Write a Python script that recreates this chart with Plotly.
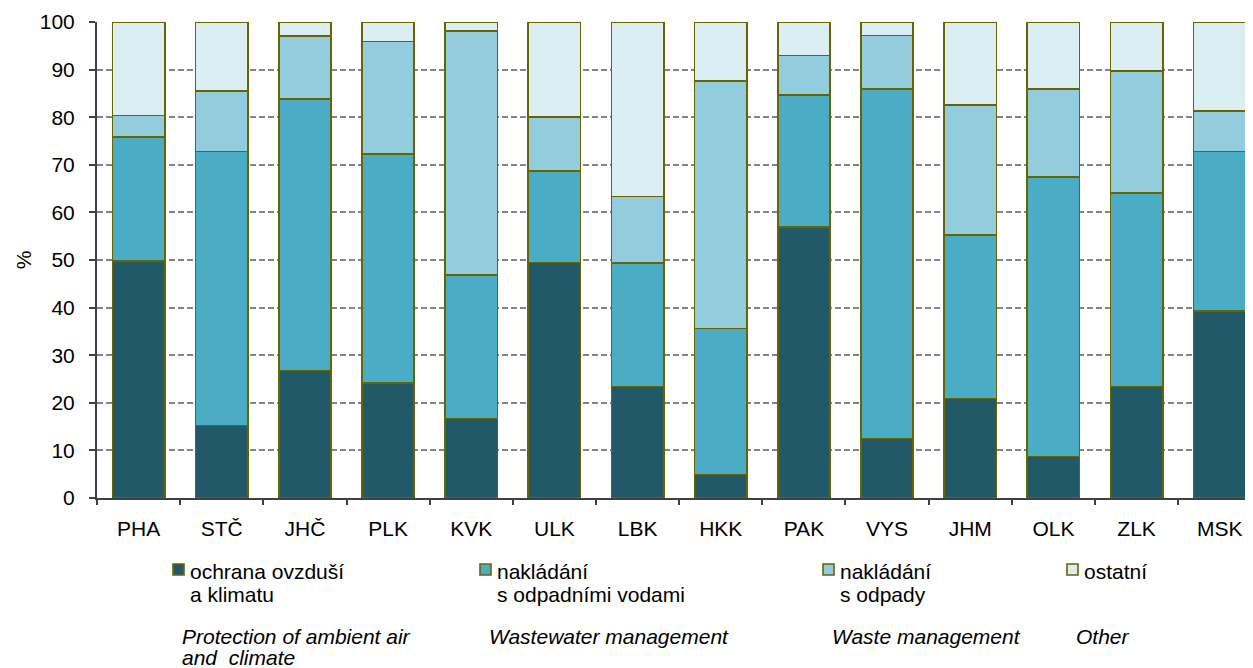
import plotly.graph_objects as go

# kraje
regions = ["PHA", "STČ", "JHČ", "PLK", "KVK", "ULK", "LBK",
           "HKK", "PAK", "VYS", "JHM", "OLK", "ZLK", "MSK"]

# podíly (%)
air = [49.8, 15.2, 26.8, 24.2, 16.7, 49.5, 23.4, 4.9, 56.9, 12.5, 20.9, 8.7, 23.4, 39.3]
wastewater = [26.0, 57.6, 57.0, 48.1, 30.1, 19.2, 26.0, 30.7, 27.8, 73.4, 34.4, 58.7, 40.7, 33.5]
waste = [4.6, 12.7, 13.3, 23.6, 51.3, 11.3, 13.9, 52.0, 8.3, 11.3, 27.3, 18.5, 25.6, 8.5]
other = [19.6, 14.5, 2.9, 4.1, 1.9, 20.0, 36.7, 12.4, 7.0, 2.8, 17.4, 14.1, 10.3, 18.7]

names_cz = [["ochrana ovzduší", "a klimatu"],
            ["nakládání", "s odpadními vodami"],
            ["nakládání", "s odpady"],
            ["ostatní"]]
names_en = [["Protection of ambient air", "and\u00a0 climate"],
            ["Wastewater management"],
            ["Waste management"],
            ["Other"]]
colors = ["#215968", "#4BACC6", "#93CDDD", "#DAEEF3"]
EDGE = "#666600"
FONT = "Liberation Sans, Arial, sans-serif"

# stránka má 8px okraj body -> figura o 8 px menší a posunutá
OFF = 8
W, H = 1253 - OFF, 668 - OFF
L, T = 97 - OFF, 22 - OFF
PB = 498 - OFF            # spodní hrana plochy grafu
B = H - PB
PW, PH = W - L, PB - T


def px(x):
    # souřadnice z obrázku -> paper
    return (x - OFF - L) / PW


def py(y):
    return (PB - (y - OFF)) / PH


fig = go.Figure()
for vals, nm, col in zip([air, wastewater, waste, other], names_cz, colors):
    fig.add_trace(go.Bar(x=regions, y=vals, name=" ".join(nm),
                         marker=dict(color=col, line=dict(color=EDGE, width=1.6)),
                         showlegend=False))

# ── legenda (ručně, jako v originále) ─────────────────────────────
leg_x = [173, 480, 823, 1067]
shapes, annots = [], []
for i, x0 in enumerate(leg_x):
    shapes.append(dict(type="rect", xref="paper", yref="paper",
                       x0=px(x0), x1=px(x0 + 11), y0=py(575), y1=py(564),
                       fillcolor=colors[i], line=dict(color=EDGE, width=1.6)))
    for j, t in enumerate(names_cz[i]):
        annots.append(dict(text=t, xref="paper", yref="paper",
                           x=px(x0 + 15), y=py(571 + 23 * j),
                           xanchor="left", yanchor="middle", showarrow=False,
                           font=dict(size=21, color="#000", family=FONT)))
    for j, t in enumerate(names_en[i]):
        annots.append(dict(text="<i>" + t + "</i>", xref="paper", yref="paper",
                           x=px(x0 + 7), y=py(636 + 21 * j),
                           xanchor="left", yanchor="middle", showarrow=False,
                           font=dict(size=21, color="#000", family=FONT)))

fig.update_layout(
    width=W, height=H,
    margin=dict(l=L, r=0, t=T, b=B),
    barmode="stack", bargap=0.37,
    plot_bgcolor="white", paper_bgcolor="white",
    font=dict(family=FONT, size=21, color="#000"),
    shapes=shapes, annotations=annots,
)
fig.update_xaxes(range=[-0.5, 13.4], showline=True, linecolor="#404040", linewidth=2,
                 ticks="outside", tickson="boundaries", ticklen=5, tickcolor="#404040",
                 tickwidth=2, ticklabelstandoff=11, tickfont=dict(size=21))
fig.update_yaxes(range=[0, 100], dtick=10, showline=True, linecolor="#404040", linewidth=2,
                 ticks="outside", ticklen=6, tickcolor="#404040", tickwidth=2,
                 showgrid=True, gridcolor="#858585", gridwidth=1.6, griddash="6px,3px",
                 zeroline=False, ticklabelstandoff=10, tickfont=dict(size=21),
                 title=dict(text="%", standoff=2, font=dict(size=21)))

fig.write_html("out.html")
